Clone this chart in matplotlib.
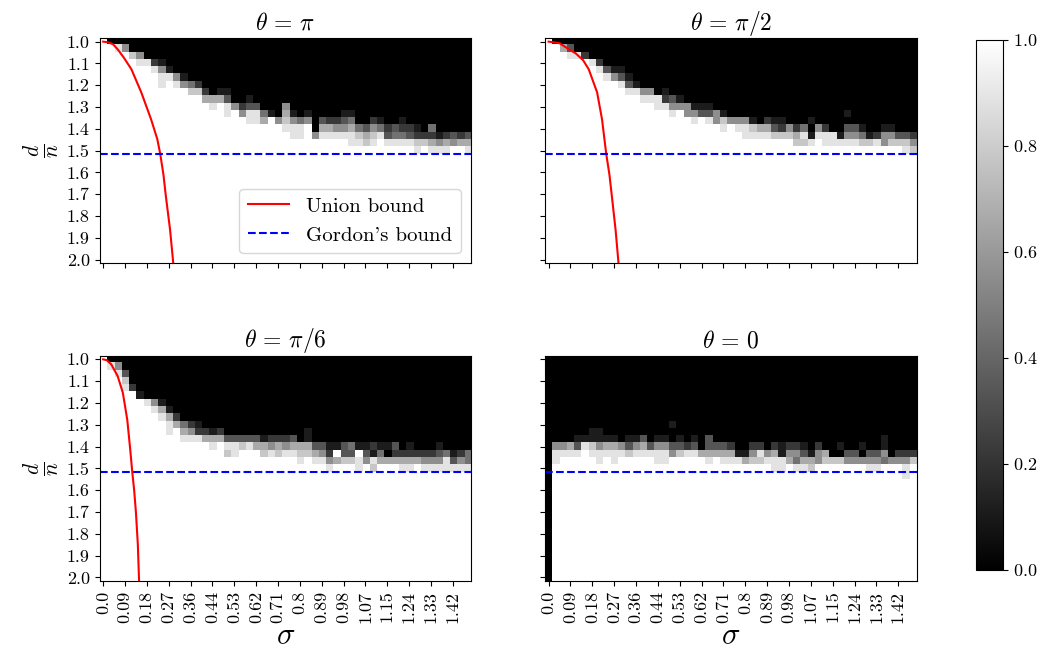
import numpy as np
import matplotlib
matplotlib.use("Agg")
import matplotlib.pyplot as plt

plt.rcParams['font.family'] = 'serif'
plt.rcParams['font.serif'] = ['cmr10']
plt.rcParams['mathtext.fontset'] = 'cm'
plt.rcParams['axes.unicode_minus'] = False
plt.rcParams['axes.formatter.use_mathtext'] = True

# grid of the experiment
sigma = np.linspace(0, 1.48, 51)
ratio = np.linspace(1.0, 2.0, 31)
sigma_labels = ['0.0', '0.09', '0.18', '0.27', '0.36', '0.44', '0.53', '0.62', '0.71',
                '0.8', '0.89', '0.98', '1.07', '1.15', '1.24', '1.33', '1.42']
ratio_labels = ['1.0', '1.1', '1.2', '1.3', '1.4', '1.5', '1.6', '1.7', '1.8', '1.9', '2.0']
titles = [r'$\theta\,=\,\pi$', r'$\theta\,=\,\pi/2$', r'$\theta\,=\,\pi/6$', r'$\theta\,=\,0$']
gordon = 1.515

# per column: first row that is not black, then grey levels (0-9) going down, white after
top_pi = [0, 1, 1, 1, 2, 2, 3, 3, 3, 4, 5, 5, 6, 6, 7, 8, 7, 7, 9, 9, 8, 9, 10, 10, 11, 9,
          10, 11, 10, 13, 11, 11, 11, 10, 10, 12, 12, 11, 11, 12, 12, 11, 12, 12, 13, 12,
          13, 13, 13, 13, 13]
fade_pi = ['9', '9', '8', '59', '79', '58', '8', '28', '1588', '18', '58', '159', '47', '27',
           '26', '68', '169', '1388', '5', '25', '1388', '388', '46', '19', '5', '5678',
           '1588', '488', '159', '5', '368', '268', '258', '1358', '14688', '478', '367',
           '2578', '148', '238', '348', '1248', '238', '1278', '27', '4268', '158', '268',
           '359', '269', '368']

top_pi2 = [0, 1, 1, 1, 2, 2, 3, 3, 4, 4, 4, 5, 6, 7, 7, 8, 7, 8, 8, 9, 9, 9, 9, 10, 10, 11,
           11, 11, 11, 12, 11, 11, 11, 12, 12, 12, 11, 12, 12, 13, 13, 10, 12, 12, 13, 13,
           12, 12, 13, 13, 13]
fade_pi2 = ['9', '9', '6', '38', '8', '29', '8', '28', '38', '159', '138', '138', '18', '58',
            '58', '88', '128', '358', '159', '55', '158', '139', '138', '55', '178', '5',
            '58', '588', '178', '68', '268', '137', '127', '57', '267', '487', '1018', '58',
            '288', '88', '18', '10358', '358', '147', '17', '28', '155', '157', '37', '378',
            '257']

top_pi6 = [0, 1, 1, 2, 4, 5, 6, 6, 6, 7, 8, 9, 9, 9, 10, 10, 10, 11, 11, 11, 11, 11, 11, 11,
           11, 11, 11, 12, 10, 12, 12, 12, 12, 12, 12, 12, 12, 12, 12, 12, 12, 13, 12, 13,
           13, 13, 12, 13, 13, 13, 13]
fade_pi6 = ['9', '8', '58', '378', '2', '1', '8', '58', '168', '1688', '26', '468', '258',
            '128', '26', '168', '26', '387', '388', '37', '38', '36', '167', '258', '267',
            '258', '368', '678', '1167', '368', '358', '1258', '196', '337', '437', '1988',
            '135', '2187', '146', '106', '326', '268', '1268', '26', '258', '258', '1358',
            '488', '138', '258', '448']

top_0 = [31, 12, 12, 12, 11, 11, 10, 10, 11, 11, 12, 11, 11, 11, 12, 11, 11, 9, 11, 12, 11,
         13, 11, 12, 12, 12, 13, 13, 12, 12, 13, 12, 12, 12, 12, 12, 13, 12, 13, 14, 12, 13,
         13, 12, 13, 13, 11, 14, 13, 13, 13]
fade_0 = ['', '588', '58', '68', '138', '18', '1178', '11588', '168', '1688', '58', '137',
          '158', '368', '38', '1588', '1588', '10035', '137', '28', '138', '6', '3368', '36',
          '368', '268', '18', '16', '257', '287', '58', '2688', '1188', '256', '2548',
          '1368', '167', '255', '67', '7', '107', '35', '35', '105', '358', '358', '1154',
          '5', '25', '2588', '27']

# union bound curves (sigma, d/n)
union_pi_s = [0, 0.020, 0.040, 0.059, 0.085, 0.115, 0.155, 0.195, 0.220, 0.232, 0.245,
              0.255, 0.272, 0.285]
union_pi_r = [1.0, 1.003, 1.012, 1.035, 1.075, 1.127, 1.233, 1.357, 1.447, 1.515, 1.61,
              1.71, 1.863, 2.017]
union_pi2_s = [0, 0.044, 0.082, 0.109, 0.140, 0.163, 0.197, 0.217, 0.234, 0.247, 0.257,
               0.272, 0.284]
union_pi2_r = [1.0, 1.007, 1.035, 1.053, 1.085, 1.127, 1.233, 1.357, 1.515, 1.61, 1.71,
               1.863, 2.017]
union_pi6_s = [0, 0.015, 0.033, 0.059, 0.080, 0.098, 0.110, 0.118, 0.126, 0.133, 0.141,
               0.146]
union_pi6_r = [1.0, 1.004, 1.023, 1.077, 1.153, 1.277, 1.413, 1.513, 1.60, 1.698, 1.85,
               2.017]


def build(top, fade):
    g = np.ones((len(ratio), len(sigma)))
    for c in range(len(sigma)):
        g[:top[c], c] = 0
        for k, ch in enumerate(fade[c]):
            r = top[c] + k
            if r < len(ratio):
                g[r, c] = int(ch) / 9
    return g


grids = [build(top_pi, fade_pi), build(top_pi2, fade_pi2),
         build(top_pi6, fade_pi6), build(top_0, fade_0)]
unions = [(union_pi_s, union_pi_r), (union_pi2_s, union_pi2_r),
          (union_pi6_s, union_pi6_r), None]

fig = plt.figure(figsize=(10.37, 6.53), dpi=100)
W, H = 1037, 653
boxes = [(99.5, 38), (545, 38), (99.5, 355.7), (545, 355.7)]
aw, ah = 371.5, 225.3

ds = sigma[1] - sigma[0]
dr = ratio[1] - ratio[0]
extent = [sigma[0] - ds / 2, sigma[-1] + ds / 2, ratio[-1] + dr / 2, ratio[0] - dr / 2]

for i, (x0, y0) in enumerate(boxes):
    ax = fig.add_axes([x0 / W, 1 - (y0 + ah) / H, aw / W, ah / H])
    im = ax.imshow(grids[i], cmap='gray', vmin=0, vmax=1, aspect='auto',
                   extent=extent, interpolation='nearest')
    if unions[i] is not None:
        ax.plot(unions[i][0], unions[i][1], color='red', lw=1.5, label='Union bound')
    ax.axhline(gordon, color='blue', ls='--', lw=1.5, label="Gordon's bound")
    ax.set_xlim(extent[0], extent[1])
    ax.set_ylim(extent[2], extent[3])
    ax.set_xticks(sigma[::3])
    ax.set_yticks(ratio[::3])
    ax.set_title(titles[i], fontsize=17)
    if i >= 2:
        ax.set_xticklabels(sigma_labels, rotation=90, fontsize=13)
        ax.set_xlabel(r'$\sigma$', fontsize=22, labelpad=0)
    else:
        ax.set_xticklabels([])
    if i % 2 == 0:
        ax.set_yticklabels(ratio_labels, fontsize=13)
        ax.set_ylabel(r'$\frac{d}{n}$', fontsize=22)
    else:
        ax.set_yticklabels([])
    if i == 0:
        ax.legend(loc='lower right', fontsize=15)

cax = fig.add_axes([976 / W, 1 - 570 / H, 27 / W, 530 / H])
cb = fig.colorbar(im, cax=cax)
cb.set_ticks([0.0, 0.2, 0.4, 0.6, 0.8, 1.0])
cb.ax.tick_params(labelsize=13)

fig.savefig('out.png', dpi=100)
